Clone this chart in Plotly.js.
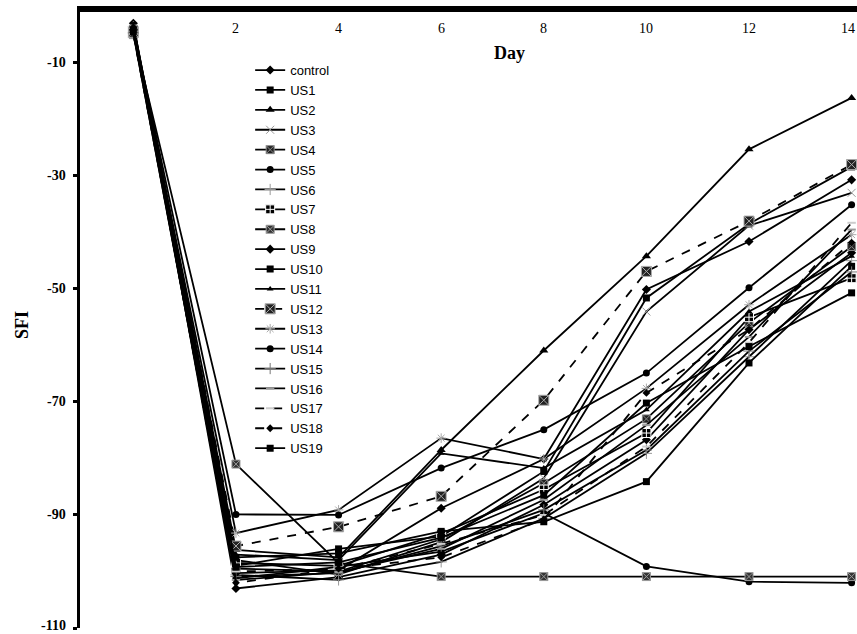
<!DOCTYPE html>
<html>
<head>
<meta charset="utf-8">
<script src="https://cdn.plot.ly/plotly-3.0.1.min.js"></script>
<style>html,body{margin:0;padding:0;background:#fff;}#chart{width:857px;height:634px;}</style>
</head>
<body>
<div id="chart"></div>
<script>
// Days (x axis)
const days = [0, 2, 4, 6, 8, 10, 12, 14];
// SFI values per group
const control = [-3.0, -103.0, -101.0, -97.0, -88.2, -76.7, -57.2, -43.6];
const US1  = [-4.0, -99.0, -96.0, -93.8, -82.3, -51.6, -38.5, -28.4];
const US2  = [-3.2, -96.2, -97.5, -78.5, -60.9, -44.2, -25.3, -16.2];
const US3  = [-4.2, -98.0, -100.5, -94.8, -83.5, -54.0, -38.8, -33.0];
const US4  = [-4.3, -99.5, -100.0, -94.3, -84.4, -73.0, -56.0, -42.5];
const US5  = [-4.8, -101.2, -99.2, -96.5, -89.7, -99.1, -101.8, -102.0];
const US6  = [-3.6, -100.6, -101.5, -98.3, -90.6, -79.1, -62.0, -45.0];
const US7  = [-4.1, -98.5, -99.0, -93.3, -85.5, -75.5, -55.0, -48.1];
const US8  = [-5.0, -81.0, -98.5, -100.9, -100.9, -100.9, -100.9, -100.9];
const US9  = [-3.5, -100.3, -99.8, -88.8, -80.1, -50.1, -41.6, -30.7];
const US10 = [-3.9, -97.5, -96.8, -92.9, -91.2, -84.1, -63.1, -46.0];
const US11 = [-3.3, -97.0, -98.0, -79.1, -81.7, -71.4, -54.0, -44.2];
const US12 = [-4.6, -95.5, -92.1, -86.7, -69.7, -46.9, -38.0, -28.0];
const US13 = [-4.4, -93.2, -89.1, -76.4, -80.1, -67.6, -52.8, -40.4];
const US14 = [-3.8, -89.9, -90.0, -81.7, -74.9, -64.9, -49.8, -35.1];
const US15 = [-4.7, -100.9, -100.3, -95.5, -89.1, -78.5, -61.0, -47.0];
const US16 = [-3.4, -101.5, -100.1, -96.0, -87.3, -74.1, -58.5, -39.5];
const US17 = [-4.9, -100.0, -99.6, -95.1, -90.0, -77.9, -59.5, -38.3];
const US18 = [-3.7, -102.0, -99.5, -97.5, -90.8, -68.4, -57.2, -41.8];
const US19 = [-4.5, -99.2, -98.4, -94.0, -86.5, -70.2, -60.2, -50.7];

const seriesNames = ['control','US1','US2','US3','US4','US5','US6','US7','US8','US9','US10','US11','US12','US13','US14','US15','US16','US17','US18','US19'];
const seriesValues = [control,US1,US2,US3,US4,US5,US6,US7,US8,US9,US10,US11,US12,US13,US14,US15,US16,US17,US18,US19];

// tick labels
const yTicks = [-10, -30, -50, -70, -90, -110];
const yTickText = ['-10', '-30', '-50', '-70', '-90', '-110'];
const xTicks = [2, 4, 6, 8, 10, 12, 14];
const xTickText = ['2', '4', '6', '8', '10', '12', '14'];

// styles: [symbol, size, fill color, marker line color, marker line width, dash]
const styles = {
  control: ['diamond', 7, '#000', '#000', 0, 'solid'],
  US1:  ['square', 7, '#000', '#000', 0, 'solid'],
  US2:  ['triangle-up', 8, '#000', '#000', 0, 'solid'],
  US3:  ['x-thin-open', 8, '#999', '#999', 1, 'solid'],
  US4:  ['square-x', 8, '#222', '#888', 1, 'solid'],
  US5:  ['circle', 7, '#000', '#000', 0, 'solid'],
  US6:  ['cross-thin-open', 8, '#999', '#999', 1, 'solid'],
  US7:  ['square-cross', 9, '#000', '#fff', 1, 'solid'],
  US8:  ['square-x', 8, '#333', '#999', 1, 'solid'],
  US9:  ['diamond', 7, '#000', '#000', 0, 'solid'],
  US10: ['square', 7, '#000', '#000', 0, 'solid'],
  US11: ['triangle-up', 6, '#000', '#000', 0, 'solid'],
  US12: ['square-x', 10, '#222', '#aaa', 1, 'dash'],
  US13: ['asterisk-open', 8, '#aaa', '#aaa', 1, 'solid'],
  US14: ['circle', 7, '#000', '#000', 0, 'solid'],
  US15: ['cross-thin-open', 8, '#777', '#777', 1, 'solid'],
  US16: ['line-ew-open', 6, '#999', '#999', 2, 'solid'],
  US17: ['line-ew-open', 6, '#ccc', '#ccc', 2, 'dash'],
  US18: ['diamond', 6, '#000', '#000', 0, 'dash'],
  US19: ['square', 7, '#000', '#000', 0, 'solid']
};

const traces = seriesNames.map((name, i) => {
  const s = styles[name];
  return {
    x: days, y: seriesValues[i], name: name, type: 'scatter', mode: 'lines+markers',
    cliponaxis: false,
    line: {color: '#000', width: 1.8, dash: s[5]},
    marker: {symbol: s[0], size: s[1], color: s[2], line: {color: s[3], width: s[4]}}
  };
});

const serif = 'Liberation Serif, Times New Roman, serif';

const annotations = [
  {text: '<b>Day</b>', xref: 'paper', yref: 'paper', x: 0.553, y: 0.933, showarrow: false,
   xanchor: 'center', yanchor: 'middle', font: {family: serif, size: 18, color: '#000'}},
  {text: '<b>SFI</b>', xref: 'paper', yref: 'paper', x: -0.0746, y: 0.492, showarrow: false, textangle: -90,
   xanchor: 'center', yanchor: 'middle', font: {family: serif, size: 18, color: '#000'}}
];
// y tick labels placed next to the axis
yTicks.forEach((v, i) => annotations.push({
  text: '<b>' + yTickText[i] + '</b>', xref: 'paper', yref: 'y', x: -0.016, y: v, showarrow: false,
  xanchor: 'right', yanchor: 'middle', yshift: (i === yTicks.length - 1) ? 3 : 0,
  font: {family: serif, size: 14, color: '#000'}
}));
// x tick labels just under the top axis line
xTicks.forEach((v, i) => annotations.push({
  text: xTickText[i], xref: 'x', yref: 'paper', x: v, y: 0.974, showarrow: false,
  xanchor: (i === xTicks.length - 1) ? 'right' : 'center', xshift: (i === xTicks.length - 1) ? 5 : 0,
  yanchor: 'middle', font: {family: serif, size: 14, color: '#000'}
}));

const layout = {
  width: 857, height: 634,
  margin: {l: 80, r: 0, t: 12, b: 6},
  paper_bgcolor: '#fff', plot_bgcolor: '#fff',
  showlegend: true,
  legend: {x: 0.219, y: 0.930, xanchor: 'left', yanchor: 'top', bgcolor: 'rgba(0,0,0,0)',
           font: {family: 'Liberation Sans, Arial, sans-serif', size: 13, color: '#000'}, traceorder: 'normal'},
  xaxis: {
    range: [-1.04, 14.105], side: 'top', showline: true, linecolor: '#000', linewidth: 6,
    showgrid: false, zeroline: false, ticks: '', tickvals: xTicks, showticklabels: false
  },
  yaxis: {
    range: [-110, -1], showline: true, linecolor: '#000', linewidth: 3,
    showgrid: false, zeroline: false, ticks: 'outside', ticklen: 4, tickwidth: 3, tickcolor: '#000',
    tickvals: yTicks, showticklabels: false
  },
  annotations: annotations
};

Plotly.newPlot('chart', traces, layout, {displayModeBar: false, staticPlot: true});
</script>
</body>
</html>
